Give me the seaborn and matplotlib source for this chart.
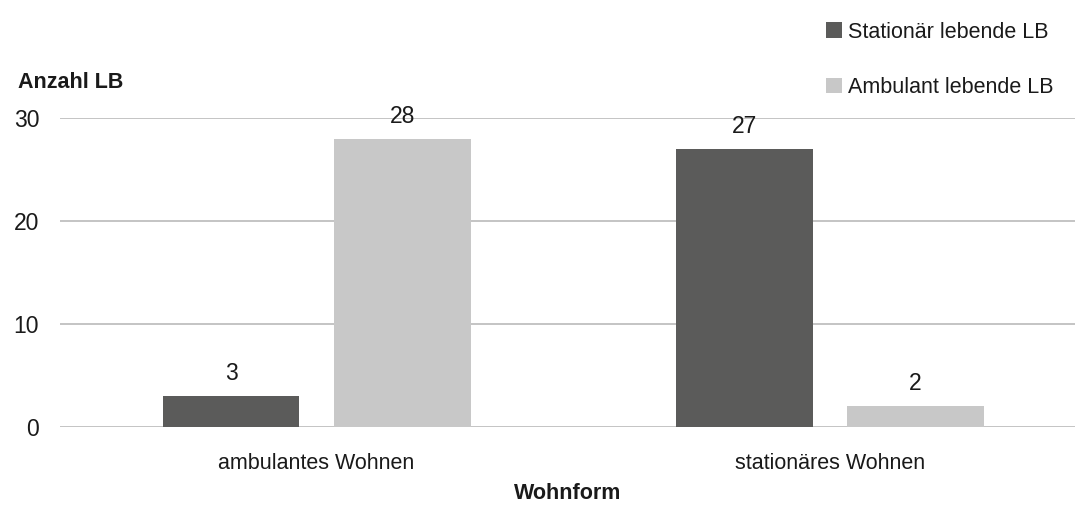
import matplotlib
matplotlib.use("Agg")
import matplotlib.pyplot as plt
import seaborn as sns
import pandas as pd
from matplotlib.patches import Patch

categories = ["ambulantes Wohnen", "stationäres Wohnen"]
series_names = ["Stationär lebende LB", "Ambulant lebende LB"]
stationaer = [3, 27]
ambulant = [28, 2]
y_ticks = [0, 10, 20, 30]

colors = ["#5b5b5a", "#c8c8c8"]
text_color = "#1a1a1a"
fs = 15.5

df = pd.DataFrame({
    "Wohnform": categories * 2,
    "Serie": [series_names[0]] * 2 + [series_names[1]] * 2,
    "Anzahl": stationaer + ambulant,
})

sns.set_theme(style="white")
plt.rcParams["font.family"] = ["Liberation Sans Narrow", "Liberation Sans", "DejaVu Sans"]

fig = plt.figure(figsize=(10.75, 5.12), dpi=100)
ax = fig.add_axes([0.0558, 0.166, 0.9442, 0.6035])

sns.barplot(data=df, x="Wohnform", y="Anzahl", hue="Serie",
            hue_order=series_names, order=categories, palette=colors,
            width=0.667, gap=0.2, saturation=1, legend=False, ax=ax,
            linewidth=0, edgecolor="none", zorder=3)

for c in ax.containers:
    labels = ax.bar_label(c, padding=8, fontsize=fs + 1, color=text_color)
    for t in labels:
        t.set_clip_on(False)

ax.set_ylim(0, 30)
ax.set_xlim(-0.5, 1.478)
ax.set_yticks(y_ticks)
ax.set_yticklabels([str(v) for v in y_ticks])
ax.yaxis.grid(True, color="#bfbfbf", linewidth=1.3, zorder=0)
ax.set_axisbelow(True)
for s in ax.spines.values():
    s.set_visible(False)
ax.tick_params(axis="y", length=0, pad=15, labelsize=fs + 1, labelcolor=text_color)
ax.tick_params(axis="x", length=0, pad=19, labelsize=fs, labelcolor=text_color)
ax.set_ylabel("")
ax.set_xlabel("Wohnform", fontsize=fs, fontweight="bold", labelpad=6, color=text_color)

fig.text(0.017, 0.838, "Anzahl LB", fontsize=fs, fontweight="bold",
         color=text_color, va="center", ha="left")

handles = [Patch(facecolor=colors[0], edgecolor="none"),
           Patch(facecolor=colors[1], edgecolor="none")]
fig.legend(handles, series_names, loc="upper left", bbox_to_anchor=(0.768, 0.958),
           frameon=False, fontsize=fs, handlelength=0.75, handleheight=0.75,
           handletextpad=0.3, labelspacing=1.6, labelcolor=text_color,
           borderpad=0, borderaxespad=0)

fig.savefig("out.png", dpi=100)
